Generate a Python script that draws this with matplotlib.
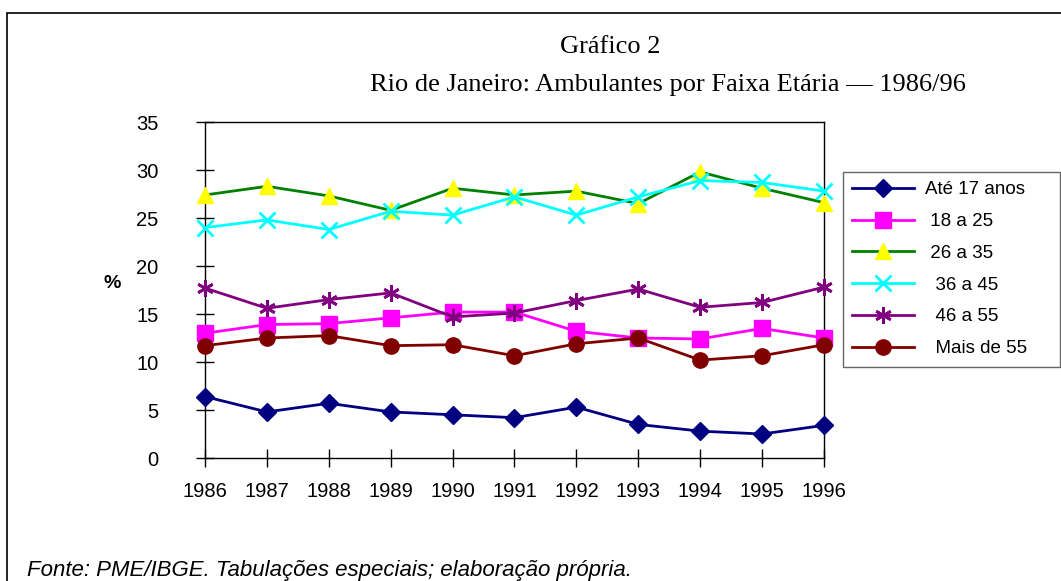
import matplotlib.pyplot as plt
from matplotlib.patches import Rectangle

anos = [1986, 1987, 1988, 1989, 1990, 1991, 1992, 1993, 1994, 1995, 1996]

ate17 = [6.4, 4.8, 5.7, 4.8, 4.5, 4.2, 5.3, 3.5, 2.8, 2.5, 3.4]
de18a25 = [13.0, 13.9, 14.0, 14.6, 15.2, 15.2, 13.2, 12.5, 12.4, 13.5, 12.5]
de26a35 = [27.4, 28.3, 27.3, 25.8, 28.1, 27.4, 27.8, 26.5, 29.8, 28.1, 26.6]
de36a45 = [24.0, 24.8, 23.8, 25.7, 25.3, 27.2, 25.3, 27.2, 28.9, 28.7, 27.8]
de46a55 = [17.7, 15.6, 16.5, 17.2, 14.7, 15.1, 16.4, 17.6, 15.7, 16.2, 17.8]
mais55 = [11.7, 12.5, 12.75, 11.7, 11.8, 10.65, 11.9, 12.5, 10.2, 10.65, 11.8]

rotulos = ["Até 17 anos", " 18 a 25", " 26 a 35", "  36 a 45", "  46 a 55", "  Mais de 55"]

plt.rcParams['font.family'] = ['Liberation Sans', 'DejaVu Sans']

fig = plt.figure(figsize=(10.61, 5.81), dpi=100)
ax = fig.add_axes([0.1932, 0.2117, 0.5834, 0.5783])

lw = 2
kw = dict(lw=lw, clip_on=False, zorder=3)
ax.plot(anos, ate17, color='#000080', marker='D', ms=9, label=rotulos[0], **kw)
ax.plot(anos, de18a25, color='#FF00FF', marker='s', ms=11, label=rotulos[1], **kw)
ax.plot(anos, de26a35, color='#008000', marker='^', ms=11,
        mfc='#FFFF00', mec='#FFFF00', label=rotulos[2], **kw)
ax.plot(anos, de36a45, color='#00FFFF', marker='x', ms=11, mew=2, label=rotulos[3], **kw)
ax.plot(anos, de46a55, color='#800080', marker=(6, 2, 0), ms=12, mew=2, label=rotulos[4], **kw)
ax.plot(anos, mais55, color='#800000', marker='o', ms=11, label=rotulos[5], **kw)

ax.set_xlim(1986, 1996)
ax.set_ylim(0, 35)
ax.set_xticks(anos)
ax.set_yticks(range(0, 36, 5))
ax.tick_params(direction='inout', length=13, width=1, labelsize=14.5)
ax.tick_params(axis='y', pad=27)
ax.tick_params(axis='x', pad=11)
for s in ax.spines.values():
    s.set_linewidth(1)
ax.set_ylabel('%', rotation=0, fontsize=14, fontweight='bold', va='center', ha='center')
ax.yaxis.set_label_coords(-0.150, 0.52)

leg = fig.legend(loc='upper left', bbox_to_anchor=(0.7945, 0.3666, 0.2045, 0.3374),
                 mode='expand', borderaxespad=0,
                 fontsize=13.5, frameon=True, fancybox=False, edgecolor='#404040',
                 borderpad=0.5, labelspacing=0.78, handlelength=3.3, handletextpad=0.6)
leg.get_frame().set_linewidth(1)

fig.text(0.575, 0.919, 'Gráfico 2', family='Liberation Serif', fontsize=19,
         ha='center', va='center')
fig.text(0.6295, 0.853, 'Rio de Janeiro: Ambulantes por Faixa Etária — 1986/96',
         family='Liberation Serif', fontsize=19, ha='center', va='center')
fig.text(0.025, 0.018, 'Fonte: PME/IBGE. Tabulações especiais; elaboração própria.',
         fontsize=16, style='italic', ha='left', va='center')

fig.patches.append(Rectangle((0.007, -0.1), 1.1, 1.0776, transform=fig.transFigure,
                             fill=False, edgecolor='black', lw=1.2, clip_on=False))

fig.savefig('out.png', dpi=100)
